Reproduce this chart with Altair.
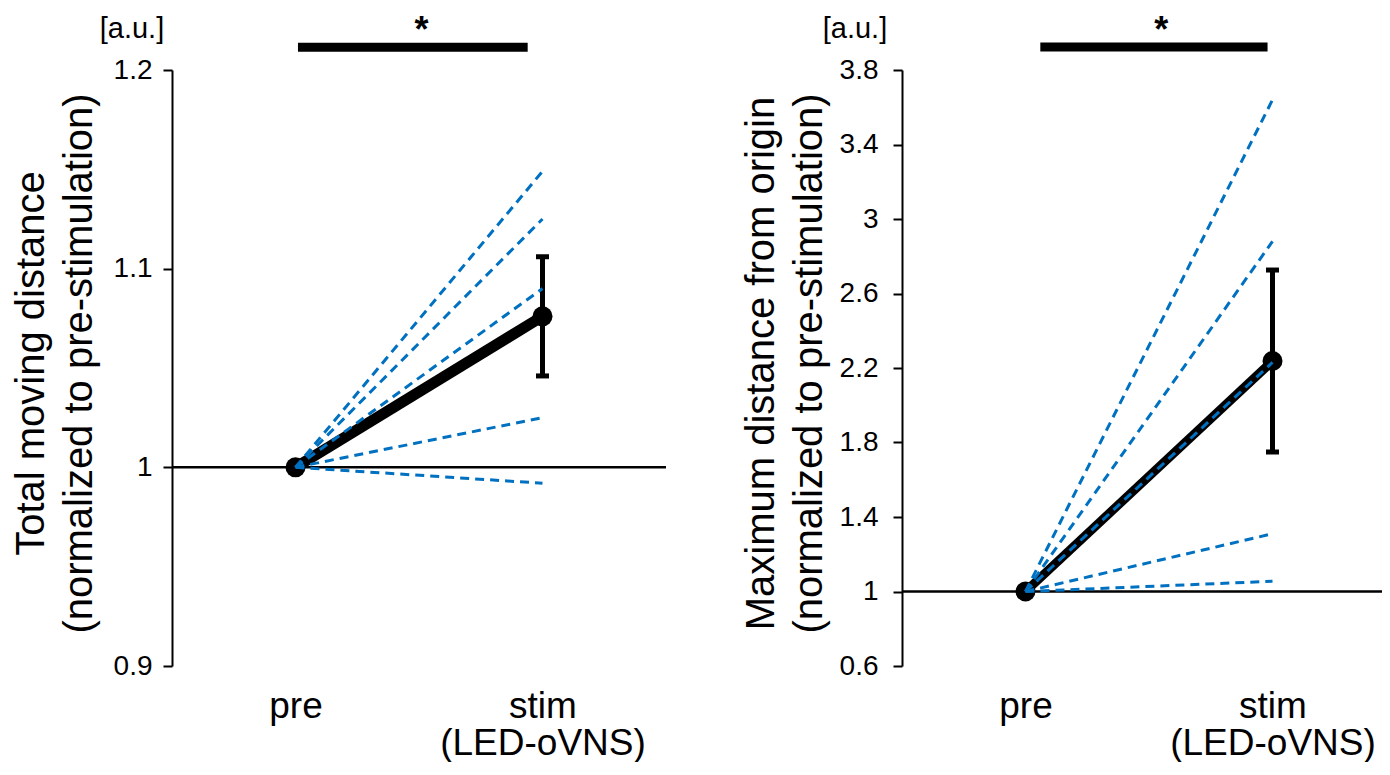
import altair as alt
import pandas as pd

# ---------------- data ----------------
CONDITIONS = ["pre", "stim"]
X_LABEL_LINES = {"pre": ["pre"], "stim": ["stim", "(LED-oVNS)"]}
SUBJECTS = ["s1", "s2", "s3", "s4", "s5"]

# Panel 1: total moving distance (normalized to pre-stimulation)
TMD_PRE = [1.0, 1.0, 1.0, 1.0, 1.0]
TMD_STIM = [1.149, 1.125, 1.090, 1.025, 0.992]
TMD_MEAN = [1.0, 1.076]
TMD_SEM = [0.0, 0.030]
TMD_TICKS = [0.9, 1.0, 1.1, 1.2]
TMD_DOMAIN = [0.9, 1.2]
TMD_TITLE = ["Total moving distance", "(normalized to pre-stimulation)"]
TMD_SIG = {"x1": 0.01, "x2": 0.94, "y": 1.2115, "star_x": 0.51}

# Panel 2: maximum distance from origin (normalized to pre-stimulation)
MDO_PRE = [1.0, 1.0, 1.0, 1.0, 1.0]
MDO_STIM = [3.64, 2.88, 2.23, 1.31, 1.055]
MDO_MEAN = [1.0, 2.2375]
MDO_SEM = [0.0, 0.4885]
MDO_TICKS = [0.6, 1.0, 1.4, 1.8, 2.2, 2.6, 3.0, 3.4, 3.8]
MDO_DOMAIN = [0.6, 3.8]
MDO_TITLE = ["Maximum distance from origin", "(normalized to pre-stimulation)"]
MDO_SIG = {"x1": 0.06, "x2": 0.98, "y": 3.923, "star_x": 0.55}

UNIT_LABEL = "[a.u.]"
BASELINE = 1.0

# ---------------- layout ----------------
FONT = "Liberation Sans"
STEP_PX = 247            # pixels between pre and stim
PLOT_W = 1210
PLOT_H = 596
X_MIN = -0.5
X_MAX = X_MIN + PLOT_W / STEP_PX
PANEL2_AXIS_PX = 730
SHIFTS = [0.0, PANEL2_AXIS_PX / STEP_PX]
BLUE = "#0070C0"

xscale = alt.Scale(domain=[X_MIN, X_MAX], nice=False, zero=False)
tick_vals = [i + s for s in SHIFTS for i in range(len(CONDITIONS))]
pre_vals = [s for s in SHIFTS]
label_expr = (
    "(" + " || ".join(f"abs(datum.value - {v:.4f}) < 0.1" for v in pre_vals) + ")"
    + f" ? {X_LABEL_LINES['pre']!r} : {X_LABEL_LINES['stim']!r}"
)
xaxis = alt.Axis(
    values=tick_vals, labelExpr=label_expr, title=None, domain=False, ticks=False,
    tickSize=0, labelPadding=51, labelBaseline="alphabetic", labelLineHeight=37,
    labelFontSize=37, labelOverlap=False, labelBound=False, labelFlush=False,
    labelLimit=0, grid=False, labelColor="black", labelFont=FONT,
)


def panel(pre, stim, mean, sem, domain, ticks, title, sig, shift, x_end,
          axis_offset, label_pad, au_dx, mean_width):
    xs = [i + shift for i in range(len(CONDITIONS))]
    indiv = pd.DataFrame(
        [{"subject": s, "x": xs[0], "v": p} for s, p in zip(SUBJECTS, pre)]
        + [{"subject": s, "x": xs[1], "v": q} for s, q in zip(SUBJECTS, stim)]
    )
    means = pd.DataFrame({"x": xs, "v": mean,
                          "lo": [m - e for m, e in zip(mean, sem)],
                          "hi": [m + e for m, e in zip(mean, sem)]})
    errs = means[means["hi"] > means["lo"]]
    base = pd.DataFrame({"x": [X_MIN + shift], "x2": [x_end], "v": [BASELINE]})
    sigdf = pd.DataFrame({"x": [sig["x1"] + shift], "x2": [sig["x2"] + shift], "v": [sig["y"]]})
    stardf = pd.DataFrame({"x": [sig["star_x"] + shift], "v": [sig["y"]]})
    audf = pd.DataFrame({"x": [X_MIN + shift], "v": [domain[1]]})

    yscale = alt.Scale(domain=domain, nice=False, zero=False)
    yaxis = alt.Axis(
        values=ticks, format=".1~f", orient="left", offset=axis_offset, grid=False,
        title=title, titleX=-121, titleY=293, titleAngle=270, titleAlign="center",
        titleBaseline="bottom", titleFontSize=40, titleLineHeight=48,
        titleFont=FONT, titleFontWeight="normal", titleColor="black",
        labelPadding=label_pad, labelFontSize=28, labelFont=FONT, labelColor="black",
        domainColor="black", domainWidth=2, tickColor="black", tickWidth=2, tickSize=9,
        labelOverlap=False, labelBound=False, labelFlush=False,
    )
    X = alt.X("x:Q", scale=xscale, axis=xaxis)
    Y = alt.Y("v:Q", scale=yscale, axis=yaxis)

    baseline = alt.Chart(base).mark_rule(color="black", strokeWidth=2.5).encode(
        x=X, x2="x2:Q", y=Y)
    mean_line = alt.Chart(means).mark_line(color="black", strokeWidth=mean_width).encode(
        x=X, y=Y)
    err_rule = alt.Chart(errs).mark_rule(color="black", strokeWidth=5).encode(
        x=X, y=alt.Y("lo:Q", scale=yscale, axis=yaxis), y2="hi:Q")
    cap_lo = alt.Chart(errs).mark_tick(color="black", orient="horizontal", size=13,
                                       thickness=5, opacity=1).encode(
        x=X, y=alt.Y("lo:Q", scale=yscale, axis=yaxis))
    cap_hi = alt.Chart(errs).mark_tick(color="black", orient="horizontal", size=13,
                                       thickness=5, opacity=1).encode(
        x=X, y=alt.Y("hi:Q", scale=yscale, axis=yaxis))
    dots = alt.Chart(means).mark_circle(color="black", size=400, opacity=1).encode(
        x=X, y=Y)
    lines = alt.Chart(indiv).mark_line(color=BLUE, strokeWidth=3, strokeDash=[9, 6]).encode(
        x=X, y=Y, detail="subject:N")
    sigbar = alt.Chart(sigdf).mark_rule(color="black", strokeWidth=9).encode(
        x=X, x2="x2:Q", y=Y)
    star = alt.Chart(stardf).mark_text(text="*", fontSize=36, font=FONT, fontWeight="bold",
                                       baseline="alphabetic", dy=-5, color="black").encode(
        x=X, y=Y)
    au = alt.Chart(audf).mark_text(text=UNIT_LABEL, fontSize=29, font=FONT, align="center",
                                   baseline="alphabetic", dx=au_dx, dy=-32,
                                   color="black").encode(x=X, y=Y)
    return alt.layer(baseline, mean_line, err_rule, cap_lo, cap_hi, dots, lines,
                     sigbar, star, au)


left = panel(TMD_PRE, TMD_STIM, TMD_MEAN, TMD_SEM, TMD_DOMAIN, TMD_TICKS, TMD_TITLE,
             TMD_SIG, SHIFTS[0], X_MIN + 2.0, 0, 11, -40, 11)
right = panel(MDO_PRE, MDO_STIM, MDO_MEAN, MDO_SEM, MDO_DOMAIN, MDO_TICKS, MDO_TITLE,
              MDO_SIG, SHIFTS[1], X_MAX, -PANEL2_AXIS_PX, 15, -47, 9)

chart = alt.layer(left, right).resolve_scale(y="independent").properties(
    width=PLOT_W, height=PLOT_H,
    autosize=alt.AutoSizeParams(type="none"),
    padding={"left": 164, "top": 62, "right": 0, "bottom": 96},
    background="white",
).configure_view(stroke=None)

chart.save("out.html", embed_options={"renderer": "svg", "actions": False})
